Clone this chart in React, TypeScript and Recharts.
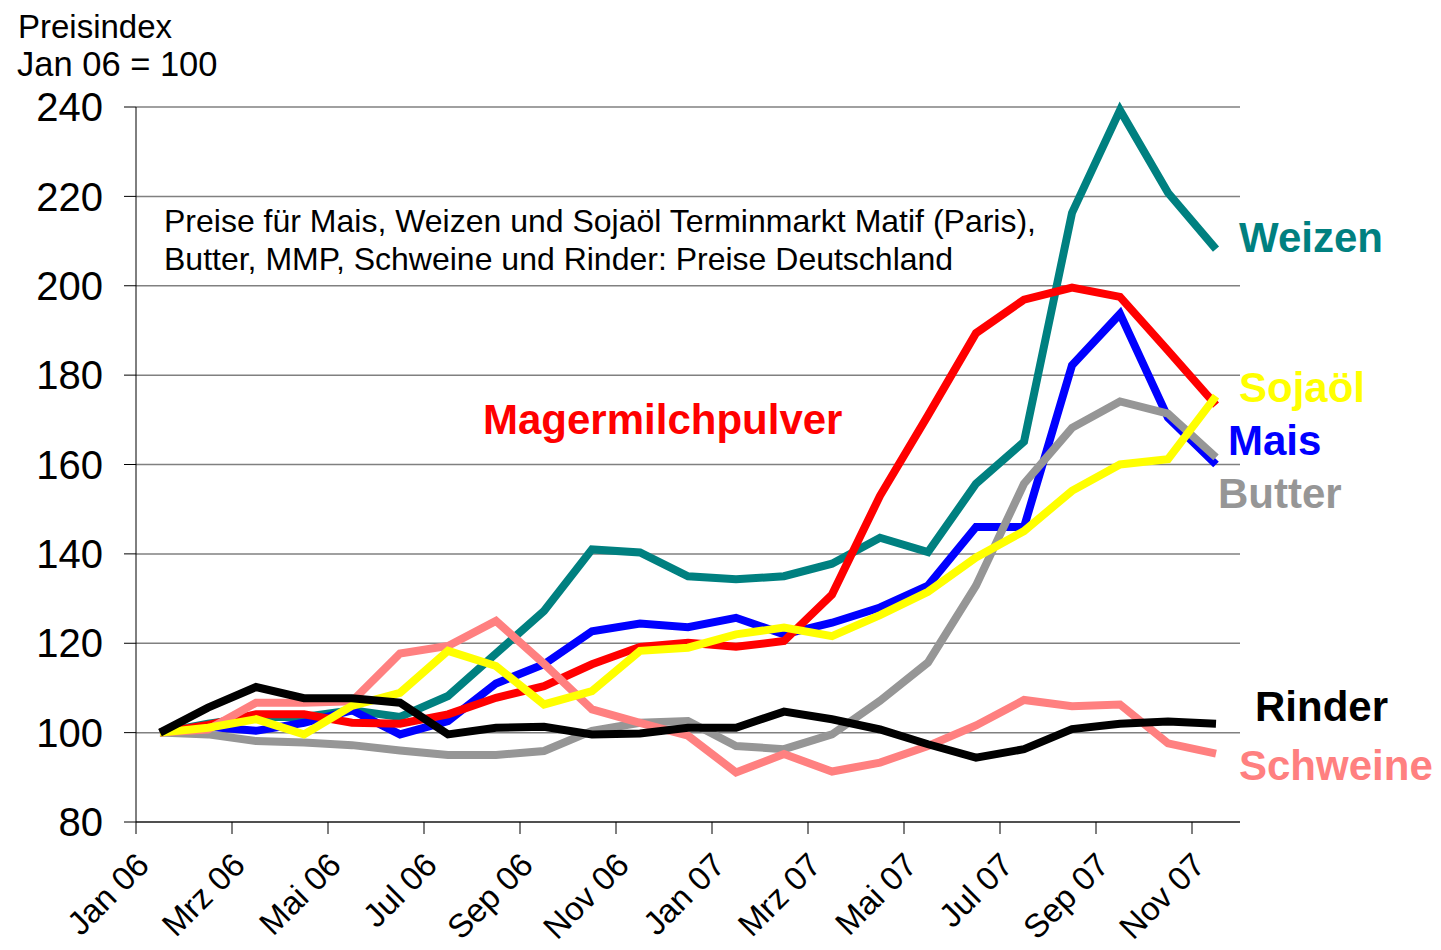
import React from "react"
import { LineChart, Line, XAxis, YAxis, CartesianGrid } from "recharts"

const months = [
  "Jan 06", "Feb 06", "Mrz 06", "Apr 06", "Mai 06", "Jun 06", "Jul 06", "Aug 06", "Sep 06", "Okt 06", "Nov 06", "Dez 06",
  "Jan 07", "Feb 07", "Mrz 07", "Apr 07", "Mai 07", "Jun 07", "Jul 07", "Aug 07", "Sep 07", "Okt 07", "Nov 07",
]

const weizen = [100, 102, 103.5, 103.5, 105, 103.5, 108.2, 117.7, 127.2, 141, 140.3, 135, 134.3, 135, 137.8, 143.6, 140.4, 155.7, 165.1, 216.3, 239.3, 220.8, 208.2]
const mais = [100, 101.3, 100.4, 102.2, 105, 99.6, 102.6, 111, 115.3, 122.7, 124.4, 123.6, 125.7, 122, 124.6, 128, 132.9, 146, 146, 182.2, 193.7, 170.5, 160]
const butter = [100, 99.6, 98.1, 97.8, 97.2, 96, 95, 95, 95.9, 100.4, 102.2, 102.6, 97, 96.3, 99.6, 107.1, 115.7, 132.9, 155.7, 168.2, 174.1, 171.4, 161.6]
const mmp = [100, 101.7, 104.1, 104.1, 102.2, 102, 104.1, 107.8, 110.4, 115.3, 119.2, 120.1, 119.2, 120.5, 130.9, 153, 171, 189.4, 196.9, 199.6, 197.5, 185.5, 173.3]
const schweine = [100, 100.7, 106.7, 106.7, 107, 117.7, 119.4, 125, 115.4, 105.2, 102.2, 99.3, 91.1, 95.2, 91.3, 93.3, 97, 101.6, 107.3, 105.9, 106.3, 97.6, 95.3]
const sojaoel = [100, 101.1, 103, 99.6, 106, 108.9, 118.3, 114.9, 106.3, 109.3, 118.3, 119, 122, 123.5, 121.6, 126.3, 131.5, 139.2, 145.1, 154.1, 160, 161.2, 175.3]
const rinder = [100, 105.6, 110.2, 107.7, 107.7, 106.7, 99.6, 101.1, 101.3, 99.6, 99.8, 101.1, 101.1, 104.7, 103, 100.7, 97.4, 94.4, 96.3, 100.8, 102, 102.5, 102]

const yTicks = [80, 100, 120, 140, 160, 180, 200, 220, 240]
// month boundaries that get a tick mark and a label (every second month)
const xTicks = [0, 2, 4, 6, 8, 10, 12, 14, 16, 18, 20, 22]

const data = months.map((m, i) => ({
  t: i + 0.5,
  month: m,
  weizen: weizen[i],
  mais: mais[i],
  butter: butter[i],
  mmp: mmp[i],
  schweine: schweine[i],
  sojaoel: sojaoel[i],
  rinder: rinder[i],
}))

const FONT = "'Liberation Sans', Arial, Helvetica, sans-serif"
const CHART_W = 1433
const CHART_H = 942
const MARGIN = { top: 99, right: 201, bottom: 0, left: 0 }
const Y_W = 128
const PLOT_W = CHART_W - MARGIN.left - MARGIN.right - Y_W
const HALF = PLOT_W / months.length / 2

const MonthTick = (props: any) => {
  const { x, y, payload } = props
  const label = months[payload.value]
  if (!label) return <g />
  const cx = x + HALF - 9
  const cy = y + 31
  return (
    <text x={cx} y={cy} transform={`rotate(-45, ${cx}, ${cy})`} textAnchor="end" fontSize={33} fontFamily={FONT} fill="#000">
      {label}
    </text>
  )
}

const series = [
  { key: "weizen", color: "#008080" },
  { key: "mais", color: "#0000FF" },
  { key: "butter", color: "#969696" },
  { key: "mmp", color: "#FF0000" },
  { key: "schweine", color: "#FF8080" },
  { key: "sojaoel", color: "#FFFF00" },
  { key: "rinder", color: "#000000" },
]

const labels = [
  { text: "Magermilchpulver", x: 475, y: 426, color: "#FF0000" },
  { text: "Weizen", x: 1231, y: 244, color: "#008080" },
  { text: "Sojaöl", x: 1231, y: 394, color: "#FFFF00" },
  { text: "Mais", x: 1220, y: 447, color: "#0000FF" },
  { text: "Butter", x: 1210, y: 500, color: "#969696" },
  { text: "Rinder", x: 1247, y: 713, color: "#000000" },
  { text: "Schweine", x: 1231, y: 772, color: "#FF8080" },
]

export default function App() {
  return (
    <div style={{ width: CHART_W, height: CHART_H, background: "#fff" }}>
      <LineChart width={CHART_W} height={CHART_H} data={data} margin={MARGIN} style={{ overflow: "visible" }}>
        <CartesianGrid vertical={false} stroke="#808080" strokeWidth={1.5} />
        <XAxis
          dataKey="t"
          type="number"
          domain={[0, months.length]}
          ticks={xTicks}
          tick={<MonthTick />}
          tickSize={12}
          height={128}
          stroke="#000"
          interval={0}
          allowDecimals={false}
        />
        <YAxis
          domain={[80, 240]}
          ticks={yTicks}
          width={Y_W}
          tickSize={12}
          tickMargin={21}
          stroke="#000"
          tick={{ fontSize: 40, fill: "#000", fontFamily: FONT }}
          interval={0}
        />
        {series.map((s) => (
          <Line
            key={s.key}
            dataKey={s.key}
            type="linear"
            stroke={s.color}
            strokeWidth={8}
            dot={false}
            isAnimationActive={false}
            strokeLinejoin="miter"
          />
        ))}
        <text x={10} y={30} fontSize={33} fontFamily={FONT} fill="#000">Preisindex</text>
        <text x={9} y={68} fontSize={34.5} fontFamily={FONT} fill="#000">Jan 06 = 100</text>
        <text x={156} y={224} fontSize={32} fontFamily={FONT} fill="#000">
          Preise für Mais, Weizen und Sojaöl Terminmarkt Matif (Paris),
        </text>
        <text x={156} y={262} fontSize={32} fontFamily={FONT} fill="#000">
          Butter, MMP, Schweine und Rinder: Preise Deutschland
        </text>
        {labels.map((l) => (
          <text key={l.text} x={l.x} y={l.y} fontSize={42} fontWeight="bold" fontFamily={FONT} fill={l.color}>
            {l.text}
          </text>
        ))}
      </LineChart>
    </div>
  )
}
